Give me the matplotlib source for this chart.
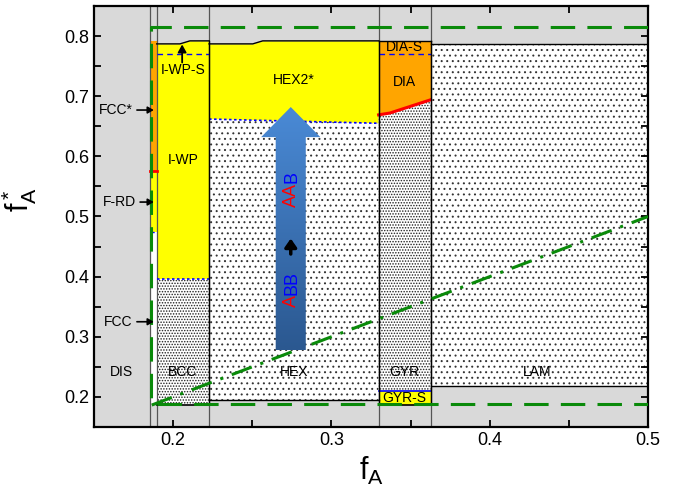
import numpy as np
import matplotlib.pyplot as plt
from matplotlib.patches import Polygon
from matplotlib.colors import LinearSegmentedColormap
from matplotlib.ticker import MultipleLocator

plt.rcParams['font.family'] = ['Liberation Sans', 'DejaVu Sans']
plt.rcParams['mathtext.default'] = 'regular'
plt.rcParams['hatch.linewidth'] = 0.7

# column boundaries along f_A
x_dis = 0.1853
x_strip = 0.1896
x_bcc = 0.2227
x_hex = 0.3298
x_gyr = 0.3626
x_max = 0.5

# narrow FCC / F-RD strip
strip_top = 0.792
strip_red = 0.576
strip_frd = 0.475
strip_bottom = 0.188

# BCC column
bcc_top_x = [0.1896, 0.2043, 0.2106, 0.2227]
bcc_top_y = [0.787, 0.787, 0.792, 0.792]
iwps_y = 0.771
iwp_bcc_y = 0.396
bcc_bottom_y = 0.1864

# HEX column
hex_top_x = [0.2227, 0.2503, 0.2566, 0.3298]
hex_top_y = [0.787, 0.787, 0.792, 0.792]
hex2_x = [0.2227, 0.3298]
hex2_y = [0.662, 0.655]
hex_bottom_y = 0.195

# GYR column
gyr_top_y = 0.792
dias_y = 0.771
dia_x = [0.3298, 0.3369, 0.3626]
dia_y = [0.669, 0.672, 0.694]
gyrs_y = 0.2096
gyr_bottom_y = 0.1864

# LAM column
lam_top = 0.786
lam_bottom = 0.218

# green bounds
green_top = 0.815
green_bottom = 0.188
green_x = 0.1862
diag = [0.1865, 0.5]

# side labels with arrows
side_labels = ['FCC*', 'F-RD', 'FCC']
side_y = [0.677, 0.524, 0.325]
side_xtext = [0.1745, 0.1765, 0.1745]

# region labels
region_labels = ['DIS', 'BCC', 'HEX', 'GYR', 'LAM', 'GYR-S', 'HEX2*', 'DIA', 'DIA-S', 'I-WP-S', 'I-WP']
region_x = [0.1675, 0.2062, 0.2762, 0.3462, 0.4300, 0.3462, 0.2762, 0.3462, 0.3462, 0.2062, 0.2062]
region_y = [0.241, 0.241, 0.241, 0.241, 0.241, 0.198, 0.727, 0.724, 0.782, 0.744, 0.594]

# sequence labels on the arrow: (red part, blue part)
seq_parts = [('A', 'BB'), ('AA', 'B')]
seq_y = [0.350, 0.515]

gray = '#d9d9d9'
yellow = '#ffff00'
orange = '#ffa500'
green = '#0a8a0a'
sparse = '...'
dense = '......'

fig = plt.figure(figsize=(6.83, 4.87), dpi=100)
ax = fig.add_axes([0.1376, 0.1232, 0.8112, 0.8645])
ax.set_facecolor(gray)

# strip
ax.fill_between([x_dis, x_strip], strip_red, strip_top, color=orange, lw=0, zorder=1)
ax.fill_between([x_dis, x_strip], strip_frd, strip_red, color=yellow, lw=0, zorder=1)
ax.fill_between([x_dis, x_strip], strip_bottom, strip_frd, color='white', lw=0, zorder=1)
ax.plot([x_dis, x_strip], [strip_red] * 2, color='red', lw=2, zorder=2)
ax.plot([x_dis, x_strip], [strip_frd] * 2, color='blue', lw=1, ls=(0, (3, 2)), zorder=2)

# BCC column
ax.fill_between(bcc_top_x, iwp_bcc_y, bcc_top_y, color=yellow, lw=0, zorder=1)
ax.fill_between([x_strip, x_bcc], bcc_bottom_y, iwp_bcc_y, facecolor='white',
                edgecolor='#222222', hatch=dense, lw=0, zorder=1)
ax.plot(bcc_top_x, bcc_top_y, color='k', lw=1, zorder=2)
ax.plot([x_strip, x_bcc], [iwps_y] * 2, color='blue', lw=1, ls=(0, (4, 3)), zorder=2)
ax.plot([x_strip, x_bcc], [iwp_bcc_y] * 2, color='blue', lw=1.2, ls=(0, (1.5, 1.5)), zorder=2)
ax.plot([x_strip, x_bcc], [bcc_bottom_y] * 2, color='k', lw=1.2, zorder=2)

# HEX column
ax.fill_between(hex_top_x, np.interp(hex_top_x, hex2_x, hex2_y), hex_top_y,
                color=yellow, lw=0, zorder=1)
ax.fill_between(hex2_x, hex_bottom_y, hex2_y, facecolor='white',
                edgecolor='#333333', hatch=sparse, lw=0, zorder=1)
ax.plot(hex_top_x, hex_top_y, color='k', lw=1, zorder=2)
ax.plot(hex2_x, hex2_y, color='blue', lw=1.2, ls=(0, (1.5, 1.5)), zorder=2)
ax.plot(hex2_x, [hex_bottom_y] * 2, color='k', lw=1, zorder=2)

# GYR column
ax.fill_between(dia_x, dia_y, gyr_top_y, color=orange, lw=0, zorder=1)
ax.fill_between(dia_x, gyrs_y, dia_y, facecolor='white',
                edgecolor='#222222', hatch=dense, lw=0, zorder=1)
ax.fill_between([x_hex, x_gyr], gyr_bottom_y, gyrs_y, color=yellow, lw=0, zorder=1)
ax.plot([x_hex, x_gyr], [gyr_top_y] * 2, color='k', lw=1, zorder=2)
ax.plot([x_hex, x_gyr], [dias_y] * 2, color='blue', lw=1, ls=(0, (4, 3)), zorder=2)
ax.plot(dia_x, dia_y, color='red', lw=2.2, zorder=2)
ax.plot([x_hex, x_gyr], [gyrs_y] * 2, color='blue', lw=1.2, zorder=2)
ax.plot([x_hex, x_gyr], [gyr_bottom_y] * 2, color='k', lw=1.2, zorder=2)

# LAM column
ax.fill_between([x_gyr, x_max], lam_bottom, lam_top, facecolor='white',
                edgecolor='#333333', hatch=sparse, lw=0, zorder=1)
ax.plot([x_gyr, x_max], [lam_top] * 2, color='k', lw=1, zorder=2)
ax.plot([x_gyr, x_max], [lam_bottom] * 2, color='k', lw=1, zorder=2)

# column separators
for xv in [x_dis, x_strip, x_bcc, x_hex, x_gyr]:
    ax.axvline(xv, color='#555555', lw=0.9, zorder=1.5)
for xv in [x_bcc, x_hex, x_gyr]:
    ax.plot([xv, xv], [0.19, 0.792], color='k', lw=1, zorder=2)

# green lines
ax.plot([x_max, green_x, green_x, x_max], [green_top, green_top, green_bottom, green_bottom],
        color=green, lw=2.2, ls=(0, (8, 4)), zorder=3)
ax.plot(diag, diag, color=green, lw=2.2, ls=(0, (7, 3, 1, 3)), zorder=3)

# big gradient arrow
ax_c, shaft_hw, head_hw = 0.2743, 0.0095, 0.0187
arr_bot, head_base, arr_tip = 0.278, 0.632, 0.682
verts = [(ax_c - shaft_hw, arr_bot), (ax_c + shaft_hw, arr_bot), (ax_c + shaft_hw, head_base),
         (ax_c + head_hw, head_base), (ax_c, arr_tip), (ax_c - head_hw, head_base),
         (ax_c - shaft_hw, head_base)]
poly = Polygon(verts, closed=True, facecolor='none', edgecolor='none', zorder=4)
ax.add_patch(poly)
cmap = LinearSegmentedColormap.from_list('arr', ['#2b5890', '#4a8ad6'])
grad = np.linspace(0, 1, 256).reshape(-1, 1)
im = ax.imshow(grad, cmap=cmap, origin='lower', aspect='auto', zorder=4,
               extent=[ax_c - head_hw, ax_c + head_hw, arr_bot, arr_tip])
im.set_clip_path(poly)

fs_seq = 13
letter_w = 0.667 * fs_seq  # width of one capital letter in points
for (red_part, blue_part), yy in zip(seq_parts, seq_y):
    ax.annotate(red_part, xy=(ax_c + 0.0005, yy), xytext=(0, 0), textcoords='offset points',
                color='red', rotation=90, rotation_mode='anchor', ha='left', va='center',
                fontsize=fs_seq, zorder=5)
    ax.annotate(blue_part, xy=(ax_c + 0.0005, yy), xytext=(0, letter_w * len(red_part)),
                textcoords='offset points', color='blue', rotation=90, rotation_mode='anchor',
                ha='left', va='center', fontsize=fs_seq, zorder=5)
ax.annotate('', xy=(ax_c, 0.468), xytext=(ax_c, 0.433),
            arrowprops=dict(arrowstyle='-|>,head_width=0.35,head_length=0.5', color='k', lw=2.5),
            zorder=6)

# I-WP-S arrow
ax.annotate('', xy=(0.2057, 0.786), xytext=(0.2057, 0.756),
            arrowprops=dict(arrowstyle='-|>,head_width=0.25,head_length=0.45', color='k',
                            lw=1.3, shrinkA=0, shrinkB=0))

# side labels
for lab, yy, xt in zip(side_labels, side_y, side_xtext):
    ax.annotate(lab, xy=(0.1878, yy), xytext=(xt, yy), ha='right', va='center', fontsize=10,
                arrowprops=dict(arrowstyle='-|>,head_width=0.2,head_length=0.35', color='k',
                                lw=1.2, shrinkA=1, shrinkB=0), zorder=5)

for lab, xx, yy in zip(region_labels, region_x, region_y):
    ax.text(xx, yy, lab, ha='center', va='center', fontsize=10, zorder=5)

ax.set_xlim(0.15, 0.5)
ax.set_ylim(0.15, 0.85)
ax.xaxis.set_major_locator(MultipleLocator(0.1))
ax.xaxis.set_minor_locator(MultipleLocator(0.05))
ax.yaxis.set_major_locator(MultipleLocator(0.1))
ax.yaxis.set_minor_locator(MultipleLocator(0.05))
ax.tick_params(which='both', direction='in', top=True, right=True, length=5, width=1.3,
               labelsize=13)
for s in ax.spines.values():
    s.set_linewidth(1.6)
ax.set_xlabel('$f_A$', fontsize=22, labelpad=4)
ax.set_ylabel('$f_A^*$', fontsize=22, labelpad=4)
ax.yaxis.set_label_coords(-0.1, 0.54)

fig.savefig('out.png', dpi=100)
